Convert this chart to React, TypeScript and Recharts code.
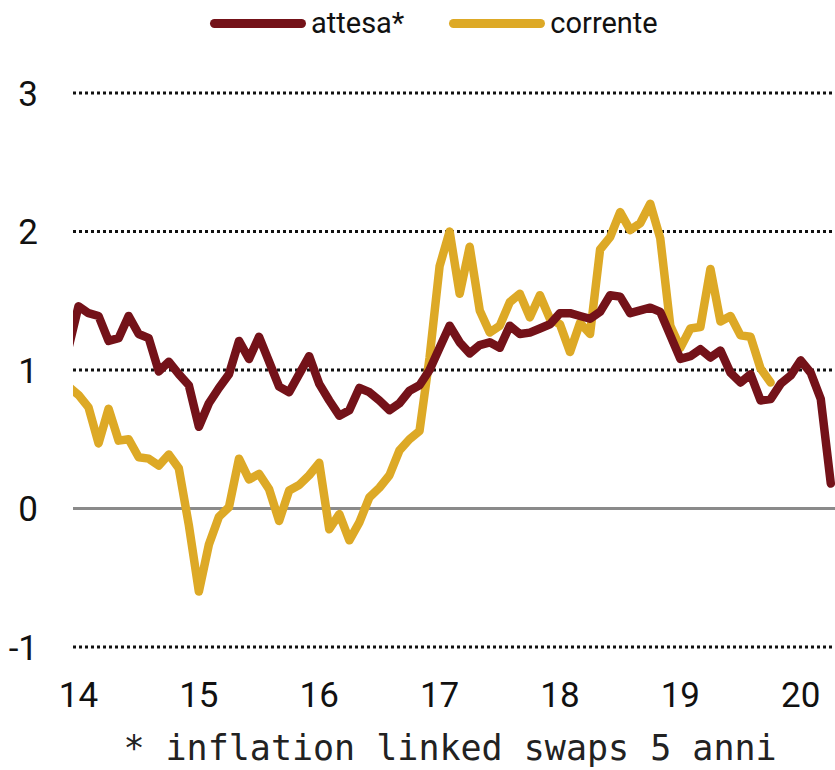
import React from 'react';
import { LineChart, Line, XAxis, YAxis, ReferenceLine, Legend, Label } from 'recharts';

// Monthly values, Dec 2013 -> Apr 2020 (attesa) and Dec 2013 -> Oct 2019 (corrente)
const attesa = [
  1.16,
  1.46, 1.41, 1.39, 1.21, 1.23, 1.39, 1.26, 1.23, 0.99, 1.06, 0.97, 0.89,
  0.59, 0.76, 0.87, 0.97, 1.21, 1.08, 1.24, 1.06, 0.88, 0.84, 0.97, 1.10,
  0.90, 0.78, 0.67, 0.71, 0.87, 0.84, 0.78, 0.71, 0.76, 0.85, 0.89, 1.00,
  1.16, 1.32, 1.20, 1.12, 1.18, 1.20, 1.16, 1.32, 1.26, 1.27, 1.30, 1.33,
  1.41, 1.41, 1.39, 1.37, 1.42, 1.54, 1.53, 1.41, 1.43, 1.45, 1.42, 1.25,
  1.08, 1.10, 1.15, 1.09, 1.14, 0.98, 0.91, 0.97, 0.78, 0.79, 0.90, 0.96,
  1.07, 0.98, 0.79, 0.18,
];

const corrente = [
  0.88,
  0.82, 0.73, 0.47, 0.72, 0.49, 0.50, 0.37, 0.36, 0.31, 0.39, 0.29, -0.12,
  -0.60, -0.26, -0.06, 0.01, 0.36, 0.21, 0.25, 0.14, -0.09, 0.13, 0.17, 0.24,
  0.33, -0.15, -0.04, -0.23, -0.10, 0.08, 0.15, 0.24, 0.42, 0.50, 0.56, 1.09,
  1.75, 2.00, 1.55, 1.89, 1.43, 1.27, 1.32, 1.49, 1.55, 1.38, 1.54, 1.37,
  1.33, 1.13, 1.34, 1.26, 1.87, 1.96, 2.14, 2.01, 2.06, 2.20, 1.95, 1.32,
  1.16, 1.30, 1.31, 1.73, 1.35, 1.39, 1.25, 1.24, 1.01, 0.91,
];

const seriesNames = ['attesa*', 'corrente'];
const yearLabels = ['14', '15', '16', '17', '18', '19', '20'];
const yearTicks = [0, 12, 24, 36, 48, 60, 72]; // month index of each January (0 = Jan 2014)
const yTicks = [-1, 0, 1, 2, 3];
const dottedGrid = [-1, 1, 2, 3];
const footnote = '* inflation linked swaps 5 anni';

const data = attesa.map((v, i) => ({
  m: i - 1,
  attesa: v,
  corrente: i < corrente.length ? corrente[i] : null,
}));

const COL_ATTESA = '#741219';
const COL_CORRENTE = '#DDA926';
const FONT = 'Roboto, "Liberation Sans", sans-serif';

const XTick = (props: any) => {
  const { x, y, payload } = props;
  const k = yearTicks.indexOf(payload.value);
  return (
    <text x={x} y={y} dy="0.71em" textAnchor="middle" fontFamily={FONT} fontSize={35} fill="#111">
      {k >= 0 ? yearLabels[k] : ''}
    </text>
  );
};

const YTick = (props: any) => {
  const { x, y, payload } = props;
  return (
    <text x={x} y={y} dy="0.37em" textAnchor="end" fontFamily={FONT} fontSize={35} fill="#111">
      {payload.value}
    </text>
  );
};

const Footnote = (props: any) => {
  const vb = props.viewBox || { x: 73, y: 647, width: 762, height: 123 };
  return (
    <text
      x={vb.x + vb.width / 2 - 4}
      y={vb.y + 113}
      textAnchor="middle"
      fontFamily='"DejaVu Sans Mono", monospace'
      fontSize={35}
      fill="#222"
    >
      {footnote}
    </text>
  );
};

const LegendContent = (props: any) => {
  const { payload } = props;
  return (
    <div style={{ display: 'flex', alignItems: 'center', paddingLeft: 210, height: 46 }}>
      {(payload || []).map((e: any, i: number) => (
        <div key={i} style={{ display: 'flex', alignItems: 'center', marginRight: 45 }}>
          <span
            style={{
              display: 'inline-block',
              width: 96,
              height: 9,
              borderRadius: 5,
              background: e.color,
            }}
          />
          <span style={{ marginLeft: 5, fontFamily: FONT, fontSize: 29, color: '#111', lineHeight: 'normal' }}>
            {e.value}
          </span>
        </div>
      ))}
    </div>
  );
};

export default function App() {
  return (
    <div style={{ position: 'absolute', left: 0, top: 0, width: 835, height: 770, background: '#fff' }}>
      <LineChart width={835} height={770} data={data} margin={{ top: 93, right: 0, bottom: 0, left: 0 }}>
        <XAxis
          dataKey="m"
          type="number"
          domain={[-0.548, 75.42]}
          allowDataOverflow
          ticks={yearTicks}
          interval={0}
          axisLine={false}
          tickLine={false}
          tickSize={0}
          tickMargin={35}
          height={123}
          tick={<XTick />}
        >
          <Label content={<Footnote />} />
        </XAxis>
        <YAxis
          type="number"
          domain={[-1, 3]}
          ticks={yTicks}
          interval={0}
          axisLine={false}
          tickLine={false}
          tickSize={0}
          tickMargin={35}
          width={73}
          tick={<YTick />}
        />
        {dottedGrid.map((v) => (
          <ReferenceLine key={v} y={v} stroke="#111" strokeWidth={3} strokeDasharray="3 3" />
        ))}
        <ReferenceLine y={0} stroke="#8a8a8a" strokeWidth={3} />
        <Legend
          verticalAlign="middle"
          align="center"
          layout="horizontal"
          wrapperStyle={{ top: 0, left: 0, width: 835, height: 46 }}
          content={<LegendContent />}
        />
        <Line
          type="linear"
          dataKey="corrente"
          name={seriesNames[1]}
          stroke={COL_CORRENTE}
          strokeWidth={8.5}
          strokeLinecap="round"
          strokeLinejoin="round"
          dot={false}
          activeDot={false}
          isAnimationActive={false}
        />
        <Line
          type="linear"
          dataKey="attesa"
          name={seriesNames[0]}
          stroke={COL_ATTESA}
          strokeWidth={8.5}
          strokeLinecap="round"
          strokeLinejoin="round"
          dot={false}
          activeDot={false}
          isAnimationActive={false}
        />
      </LineChart>
    </div>
  );
}
